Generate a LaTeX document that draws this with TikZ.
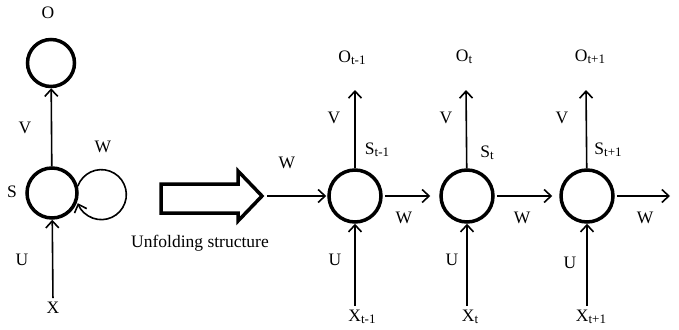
\documentclass[tikz,border=0pt]{standalone}
\usepackage{fontspec}
\setmainfont{Liberation Serif}
\usetikzlibrary{arrows.meta}
\newcommand\sbs[1]{\raisebox{-2pt}{\fontsize{13}{13}\selectfont #1}}
\tikzset{
  cell/.style={circle,draw,line width=3.5pt,minimum size=52pt,inner sep=0pt},
  lbl/.style={inner sep=0pt,font=\fontsize{17.5}{17.5}\selectfont},
  conn/.style={line width=1.6pt,-{Straight Barb[length=7pt,width=13pt,line width=1.6pt]}},
  plain/.style={line width=1.6pt},
}
\begin{document}
\begin{tikzpicture}[x=1pt,y=-1pt]
\useasboundingbox (0,0) rectangle (679,329);
% ---- folded network
\node[cell,minimum size=47pt] (O) at (51,63) {};
\node[cell,minimum size=50pt] (S) at (52,193) {};
\node[lbl] (Ol) at (48,13) {O};
\node[lbl] (Vl) at (25,128) {V};
\node[lbl] (Sl) at (12,192) {S};
\node[lbl] (Wl) at (103,147) {W};
\node[lbl] (Ul) at (22,260) {U};
\node[lbl] (X) at (53,308) {X};
\draw[conn] (S) -- (O);
\draw[conn,shorten <=4pt] (X.north) -- (S);
\draw[conn] (S.15) arc[start angle=160,end angle=-160,radius=25pt];
% ---- big hollow arrow
\draw[line width=3.5pt,miter limit=10] (161,184) -- (238,184) -- (238,171) -- (262,196) -- (238,221) -- (238,213) -- (161,213) -- cycle;
\coordinate (tip) at (264,196);
\node[lbl] (unf) at (200,243) {Unfolding structure};
% ---- unfolded network
\node[cell] (A1) at (355,196) {};
\node[cell] (A2) at (467,196) {};
\node[cell] (A3) at (587,196) {};
\coordinate (T1) at (355,90);
\coordinate (T2) at (466,90);
\coordinate (T3) at (586,90);
\coordinate (E) at (670,196);
\node[lbl] (O1) at (352,58) {O\sbs{t-1}};
\node[lbl] (O2) at (464,57) {O\sbs{t}};
\node[lbl] (O3) at (590,57) {O\sbs{t+1}};
\node[lbl] (V1) at (334,118) {V};
\node[lbl] (V2) at (446,118) {V};
\node[lbl] (V3) at (562,118) {V};
\node[lbl] (S1) at (377,150) {S\sbs{t-1}};
\node[lbl] (S2) at (487,153) {S\sbs{t}};
\node[lbl] (S3) at (608,150) {S\sbs{t+1}};
\node[lbl] (W0) at (287,163) {W};
\node[lbl] (W1) at (404,218) {W};
\node[lbl] (W2) at (522,218) {W};
\node[lbl] (W3) at (645,218) {W};
\node[lbl] (U1) at (335,260) {U};
\node[lbl] (U2) at (452,260) {U};
\node[lbl] (U3) at (570,263) {U};
\node[lbl] (X1) at (362,317) {X\sbs{t-1}};
\node[lbl] (X2) at (470,317) {X\sbs{t}};
\node[lbl] (X3) at (591,317) {X\sbs{t+1}};
\draw[conn,shorten <=3pt,shorten >=1pt] (tip) -- (A1);
\draw[conn,shorten <=2pt,shorten >=9pt] (A1) -- (A2);
\draw[conn,shorten <=2pt,shorten >=7pt] (A2) -- (A3);
\draw[conn,shorten <=2pt] (A3) -- (E);
\draw[conn] (A1) -- (T1);
\draw[conn] (A2) -- (T2);
\draw[conn] (A3) -- (T3);
\draw[conn,shorten <=4pt] (X1.north -| A1) -- (A1);
\draw[conn,shorten <=4pt] (X2.north -| A2) -- (A2);
\draw[conn,shorten <=4pt] (X3.north -| A3) -- (A3);
\end{tikzpicture}
\end{document}
